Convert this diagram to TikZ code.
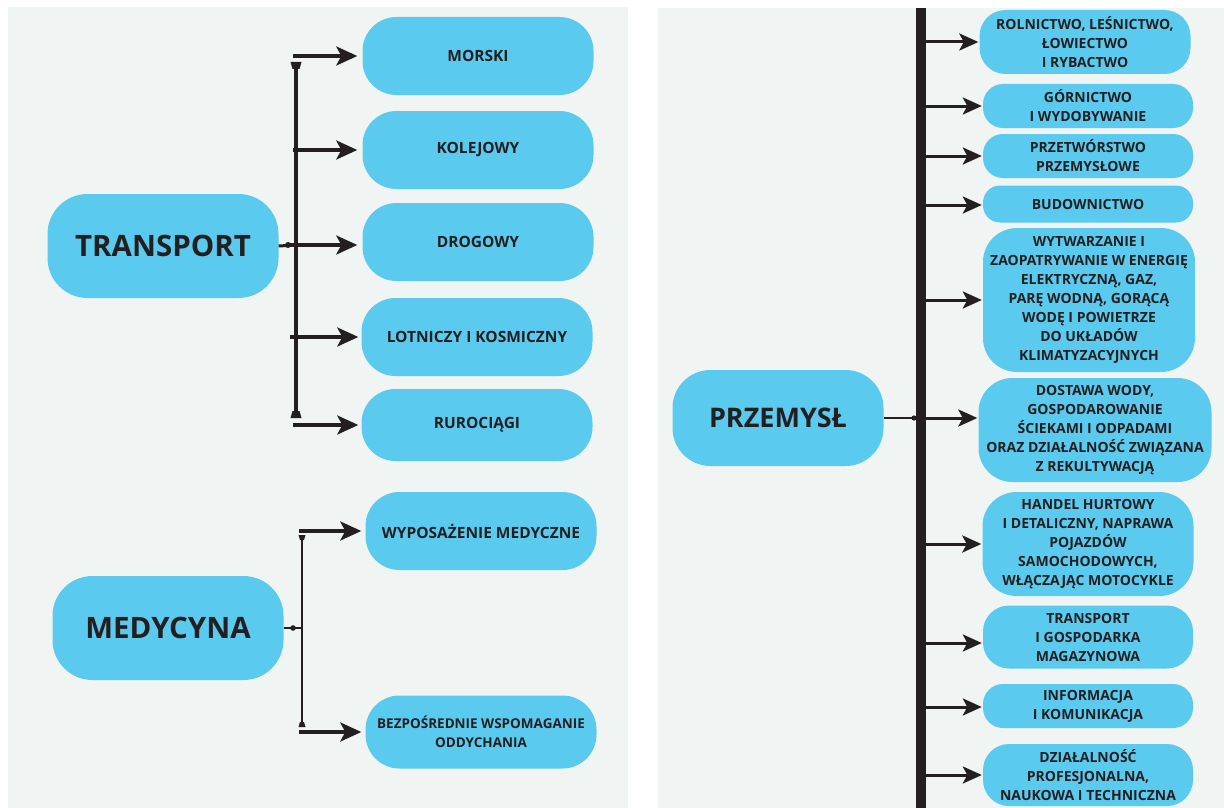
\documentclass[tikz,border=0pt]{standalone}
\usepackage{fontspec}
\setmainfont{Open Sans}
\usetikzlibrary{arrows.meta}
\definecolor{bg}{HTML}{F0F4F3}
\definecolor{boxc}{HTML}{5BCAEF}
\definecolor{ink}{HTML}{231F20}
\tikzset{
  box/.style={fill=boxc, draw=none, text=ink, align=center, inner sep=0pt,
    font=\bfseries\fontsize{14}{19}\selectfont},
  lbox/.style={box, minimum width=231pt, minimum height=78pt, rounded corners=34pt,
    font=\bfseries\fontsize{15.5}{19}\selectfont},
  big/.style={box, minimum width=231pt, minimum height=104pt, rounded corners=40pt,
    font=\bfseries\fontsize{29.5}{32}\selectfont},
  rbox/.style={box, minimum width=210pt},
  arr/.style={draw=ink, line width=3.2pt, -{Stealth[length=21pt,width=19pt,inset=5pt]}},
  rarr/.style={draw=ink, line width=3pt, -{Stealth[length=19pt,width=17pt,inset=4.5pt]}},
  vline/.style={draw=ink, line width=4pt},
  endcap/.style={fill=ink, draw=none},
}
\begin{document}
\begin{tikzpicture}[x=1pt,y=-1pt]
\useasboundingbox (0,0) rectangle (1224,808);
\fill[white] (0,0) rectangle (1224,808);
\fill[bg] (8,7) rectangle (628,808);
\fill[bg] (658,8) rectangle (1224,808);

% ---------- TRANSPORT ----------
\node[big] (tr) at (163,246) {TRANSPORT};
\node[lbox] (t1) at (478,56) {MORSKI};
\node[lbox] (t2) at (478,150) {KOLEJOWY};
\node[lbox] (t3) at (478,242) {DROGOWY};
\node[lbox] (t4) at (477,337) {LOTNICZY I KOSMICZNY};
\node[lbox, minimum height=72pt] (t5) at (477,425) {RUROCIĄGI};

\coordinate (tvt) at (296,68);
\coordinate (tvb) at (296,412);
\coordinate (tj) at (296,245);
\draw[vline] (tvt) -- (tvb);
\fill[endcap] (290.5,62) -- (301.5,62) -- (299.5,69) -- (292.5,69) -- cycle;
\fill[endcap] (292.5,411) -- (299.5,411) -- (301.5,418) -- (290.5,418) -- cycle;
\draw[vline, line width=3pt] (tr.east) -- (tj);
\fill[ink] (288,245) circle (3pt);

\coordinate (ta1) at (293,56);
\coordinate (ta2) at (293,150);
\coordinate (ta3) at (289,245);
\coordinate (ta4) at (290,337);
\coordinate (ta5) at (293,425);
\draw[arr, shorten >=5pt] (ta1) -- (ta1 -| t1.west);
\draw[arr, shorten >=5pt] (ta2) -- (ta2 -| t2.west);
\draw[arr, shorten >=5pt] (ta3) -- (ta3 -| t3.west);
\draw[arr, shorten >=3pt] (ta4) -- (ta4 -| t4.west);
\draw[arr, shorten >=3pt] (ta5) -- (ta5 -| t5.west);

% ---------- MEDYCYNA ----------
\node[big] (md) at (168,628) {MEDYCYNA};
\node[lbox, font=\bfseries\fontsize{15.5}{19}\selectfont] (m1) at (481,531) {WYPOSAŻENIE MEDYCZNE};
\node[lbox, minimum height=73pt, font=\bfseries\fontsize{13.5}{19}\selectfont] (m2) at (481,732) {BEZPOŚREDNIE WSPOMAGANIE\\ODDYCHANIA};

\coordinate (mvt) at (302,538);
\coordinate (mvb) at (302,724);
\coordinate (mj) at (302,628);
\draw[vline, line width=2.6pt] (mvt) -- (mvb);
\fill[endcap] (298.5,535) -- (305.5,535) -- (304,540) -- (300,540) -- cycle;
\fill[endcap] (300,722) -- (304,722) -- (305.5,727) -- (298.5,727) -- cycle;
\draw[vline, line width=2.8pt] (md.east) -- (mj);
\fill[ink] (293,628) circle (2.8pt);

\coordinate (ma1) at (299,531);
\coordinate (ma2) at (299,732);
\draw[arr, shorten >=4pt] (ma1) -- (ma1 -| m1.west);
\draw[arr, shorten >=4pt] (ma2) -- (ma2 -| m2.west);

% ---------- PRZEMYSŁ ----------
\node[big, minimum width=211pt, minimum height=96pt, rounded corners=38pt,
  font=\bfseries\fontsize{27}{30}\selectfont] (pz) at (778,418) {PRZEMYSŁ};

\coordinate (bt) at (921,8);
\coordinate (bb) at (921,808);
\draw[draw=ink, line width=10pt] (bt) -- (bb);
\draw[draw=ink, line width=2pt] (pz.east) -- (916,418);
\fill[ink] (914,418) circle (2.6pt);

\node[rbox, minimum width=211pt, minimum height=64pt, rounded corners=26pt] (r1) at (1085,42)
  {ROLNICTWO, LEŚNICTWO,\\ŁOWIECTWO\\I RYBACTWO};
\node[rbox, minimum height=44pt, rounded corners=20pt] (r2) at (1088,106)
  {GÓRNICTWO\\I WYDOBYWANIE};
\node[rbox, minimum height=44pt, rounded corners=20pt] (r3) at (1088,156)
  {PRZETWÓRSTWO\\PRZEMYSŁOWE};
\node[rbox, minimum height=37pt, rounded corners=17pt] (r4) at (1088,204)
  {BUDOWNICTWO};
\node[rbox, minimum width=212pt, minimum height=144pt, rounded corners=34pt] (r5) at (1089,300)
  {WYTWARZANIE I\\ZAOPATRYWANIE W ENERGIĘ\\ELEKTRYCZNĄ, GAZ,\\PARĘ WODNĄ, GORĄCĄ\\WODĘ I POWIETRZE\\DO UKŁADÓW\\KLIMATYZACYJNYCH};
\node[rbox, minimum width=233pt, minimum height=104pt, rounded corners=34pt] (r6) at (1095,430)
  {DOSTAWA WODY,\\GOSPODAROWANIE\\ŚCIEKAMI I ODPADAMI\\ORAZ DZIAŁALNOŚĆ ZWIĄZANA\\Z REKULTYWACJĄ};
\node[rbox, minimum width=211pt, minimum height=104pt, rounded corners=34pt] (r7) at (1088,544)
  {HANDEL HURTOWY\\I DETALICZNY, NAPRAWA\\POJAZDÓW\\SAMOCHODOWYCH,\\WŁĄCZAJĄC MOTOCYKLE};
\node[rbox, minimum height=63pt, rounded corners=26pt] (r8) at (1088,637)
  {TRANSPORT\\I GOSPODARKA\\MAGAZYNOWA};
\node[rbox, minimum height=44pt, rounded corners=20pt] (r9) at (1088,706)
  {INFORMACJA\\I KOMUNIKACJA};
\node[rbox, minimum height=62pt, rounded corners=26pt] (r10) at (1088,775)
  {DZIAŁALNOŚĆ\\PROFESJONALNA,\\NAUKOWA I TECHNICZNA};

\foreach \i/\y in {1/42,2/106,3/156,4/205,5/300,6/418,7/544,8/643,9/707,10/775}{
  \coordinate (ba\i) at (926,\y);
  \draw[rarr, shorten >=1pt] (ba\i) -- (ba\i -| r\i.west);
}
\end{tikzpicture}
\end{document}
